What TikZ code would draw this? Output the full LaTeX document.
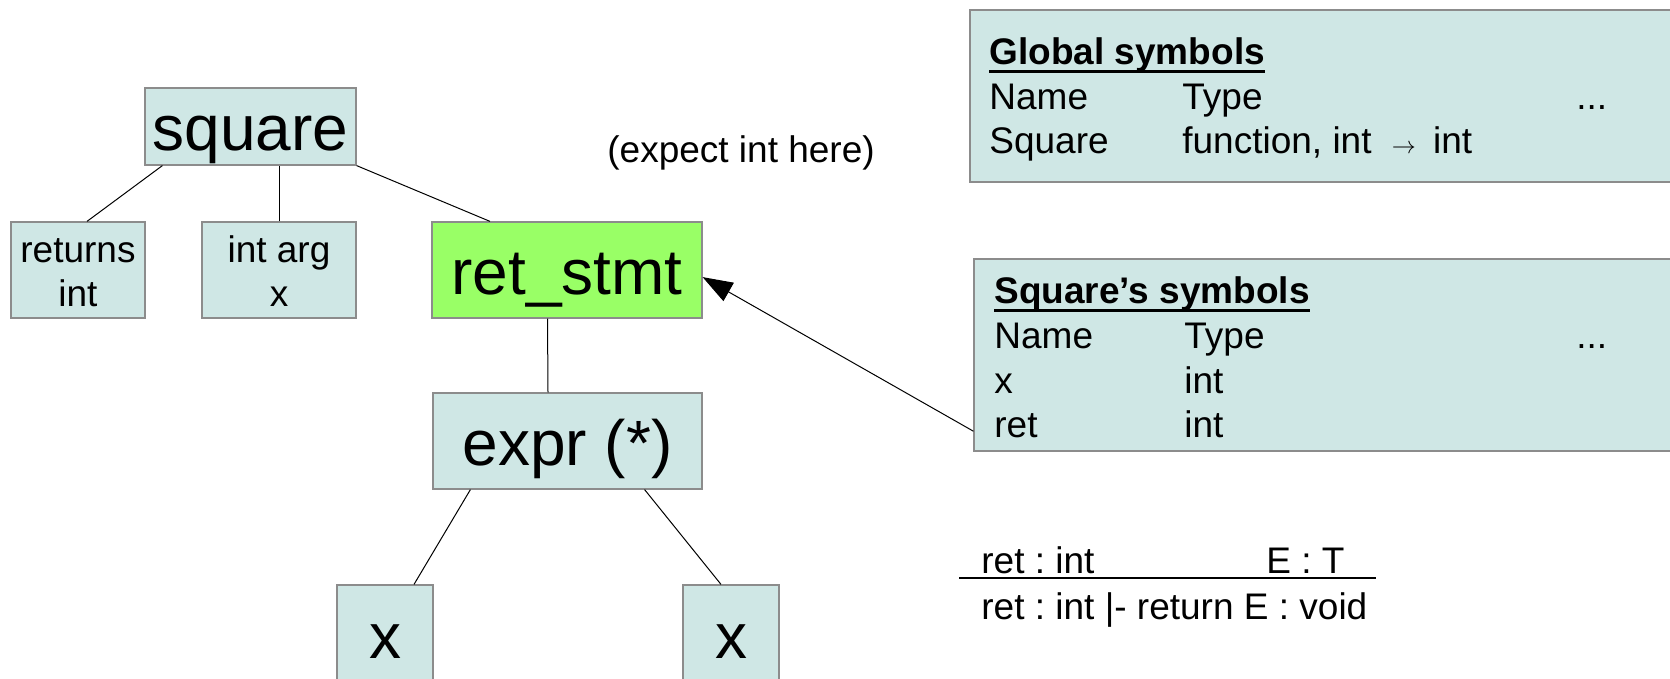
\documentclass[tikz,border=0pt]{standalone}
\usepackage{fontspec}
\setmainfont{Liberation Sans}
\usetikzlibrary{arrows.meta}
\frenchspacing

\definecolor{nodefill}{HTML}{CFE7E5}
\definecolor{stmtfill}{HTML}{99FF66}

\newcommand{\bigtext}{\fontsize{32}{38}\selectfont}
\newcommand{\smalltext}{\fontsize{18.5}{21.5}\selectfont}
\newcommand{\tabtext}{\fontsize{18.5}{22.25}\selectfont}

% heading underline that runs through the descenders
\newsavebox{\hdrbox}
\newcommand{\hdrline}[1]{\sbox{\hdrbox}{#1}\rlap{\rule[-3.8pt]{\wd\hdrbox}{1.1pt}}\usebox{\hdrbox}}
% taller first line for the two-line leaves
\newcommand{\toprow}{\rule{0pt}{14.8pt}}
% small arrow in function types
\newcommand{\maps}{\hspace{5pt}{\fontsize{12}{12}\selectfont$\rightarrow$}\hspace{3.5pt}}

\tikzset{
  ast/.style={draw=black!45, line width=0.6pt, fill=nodefill, inner sep=0pt},
  astbig/.style={ast, font=\bigtext, text height=30pt, text depth=6pt},
  astsmall/.style={ast, font=\smalltext, align=center},
  symtab/.style={draw=black!45, line width=0.6pt, fill=nodefill, inner sep=0pt},
  plain/.style={font=\smalltext, inner sep=0pt, anchor=base west},
  edge/.style={line width=0.5pt},
}

\begin{document}
\begin{tikzpicture}[x=0.5pt, y=-0.5pt]
\useasboundingbox (0,0) rectangle (1670,679);

% syntax tree
\node[astbig, minimum width=105.5pt, minimum height=38.5pt] (square) at (250.5,126.5) {square};
\node[astsmall, minimum width=67pt, minimum height=48pt] (returns) at (78,270) {\toprow returns\\[0.5pt]int};
\node[astsmall, minimum width=77pt, minimum height=48pt] (intarg) at (279,270) {\toprow int arg\\[0.5pt]x};
\node[astbig, fill=stmtfill, minimum width=135pt, minimum height=48pt] (retstmt) at (567,270) {ret\_stmt};
\node[astbig, minimum width=134.5pt, minimum height=48pt] (expr) at (567.5,441) {expr (*)};
\node[astbig, minimum width=48pt, minimum height=49pt] (lhsx) at (385,634) {x};
\node[astbig, minimum width=48pt, minimum height=49pt] (rhsx) at (731,634) {x};

\draw[edge] ([xshift=9pt]square.south west) -- ([xshift=4.5pt]returns.north);
\draw[edge] (intarg.north) -- (intarg.north |- square.south);
\draw[edge] (square.south east) -- ([xshift=-38.5pt]retstmt.north);
\draw[edge] ([xshift=-9.75pt]retstmt.south) -- ([xshift=-9.75pt]expr.north);
\draw[edge] ([xshift=19pt]expr.south west) -- ([xshift=14.5pt]lhsx.north);
\draw[edge] ([xshift=-29pt]expr.south east) -- ([xshift=-5pt]rhsx.north);

\node[plain] (expect) at (607,163) {(expect int here)};

% symbol tables
\node[symtab, minimum width=360pt, minimum height=86pt] (globalsyms) at (1330,96) {};
\node[plain, font=\tabtext] (globaltext) at (989,65) {%
  \begin{tabular}[t]{@{}p{96.5pt}@{}p{197pt}@{}l@{}}
    \multicolumn{3}{@{}l}{\hdrline{\textbf{Global symbols}}}\\
    Name & Type & ...\\
    Square & function, int \maps{} int &\\
  \end{tabular}};

\node[symtab, minimum width=358pt, minimum height=96pt] (localsyms) at (1332,355) {};
\node[plain, font=\tabtext] (localtext) at (994,304) {%
  \begin{tabular}[t]{@{}p{95pt}@{}p{196pt}@{}l@{}}
    \multicolumn{3}{@{}l}{\hdrline{\textbf{Square’s symbols}}}\\
    Name & Type & ...\\
    x & int &\\
    ret & int &\\
  \end{tabular}};

\draw[edge, -{Triangle[length=15pt, width=10.5pt]}] (localsyms.192) -- (retstmt.-3);

% typing rule for return
\node[plain] (premret) at (981,573) {ret : int};
\node[plain] (premexpr) at (1266,573) {E : T};
\draw[line width=1pt] (959,578) -- (1376,578);
\node[plain] (concl) at (981,619) {ret : int |- return E : void};
\end{tikzpicture}
\end{document}
